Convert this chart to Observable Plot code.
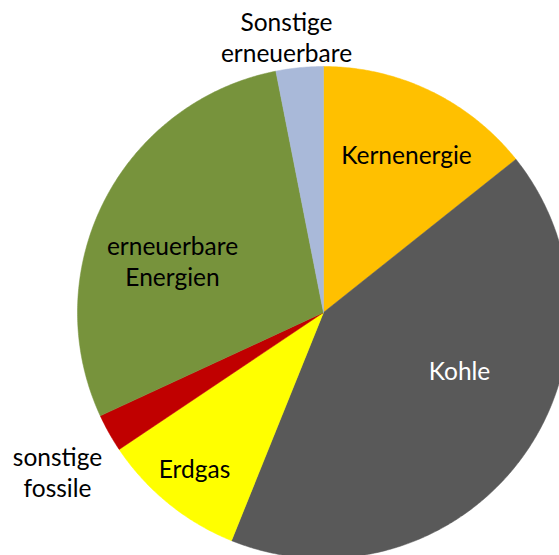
<!DOCTYPE html>
<html>
<head>
<meta charset="utf-8">
<script src="https://cdn.jsdelivr.net/npm/d3@7"></script>
<script src="https://cdn.jsdelivr.net/npm/@observablehq/plot@0.6"></script>
<style>
  html, body { margin: 0; padding: 0; background: #fff; overflow: hidden; }
  svg { overflow: hidden; }
</style>
</head>
<body>
<div id="chart"></div>
<script>
// Data (shares in %)
const categories = ["Kernenergie", "Kohle", "Erdgas", "sonstige fossile", "erneuerbare Energien", "Sonstige erneuerbare"];
const values = [14.3, 41.8, 9.5, 2.5, 28.8, 3.1];
const labels = ["Kernenergie", "Kohle", "Erdgas", "sonstige\nfossile", "erneuerbare\nEnergien", "Sonstige\nerneuerbare"];
const colors = ["#FFC000", "#595959", "#FFFF00", "#C00000", "#77933C", "#A9B9D9"];
const textColors = ["#000", "#fff", "#000", "#000", "#000", "#000"];

// Layout
const W = 559, H = 555, CX = 323, CY = 312, R = 246;
// label offsets from center in pixels
const labelOffsets = [[83, -158], [136, 57.5], [-129, 155.2], [-266, 159], [-151, -51.8], [-37, -276]];

const pie = d3.pie().sort(null).value(d => d.value).startAngle(0).endAngle(2 * Math.PI);
const table = categories.map((c, i) => ({name: c, value: values[i], label: labels[i]}));
const arcs = pie(table);

const pts = [];
for (const a of arcs) {
  const n = Math.max(4, Math.ceil((a.endAngle - a.startAngle) / (Math.PI / 360)));
  pts.push({name: a.data.name, x: 0, y: 0});
  for (let k = 0; k <= n; k++) {
    const t = a.startAngle + (a.endAngle - a.startAngle) * k / n;
    pts.push({name: a.data.name, x: Math.sin(t), y: Math.cos(t)});
  }
  pts.push({name: a.data.name, x: 0, y: 0});
}

const labelData = table.map((d, i) => ({
  label: d.label,
  color: textColors[i],
  x: labelOffsets[i][0] / R,
  y: -labelOffsets[i][1] / R
}));

const chart = Plot.plot({
  width: W,
  height: H,
  margin: 0,
  x: {domain: [-CX / R, (W - CX) / R], axis: null},
  y: {domain: [-(H - CY) / R, CY / R], axis: null},
  color: {type: "ordinal", domain: categories, range: colors},
  style: {fontFamily: "Lato, sans-serif", background: "#fff"},
  marks: [
    Plot.line(pts, {x: "x", y: "y", z: "name", fill: "name", stroke: "name", strokeWidth: 0.5, curve: "linear"}),
    Plot.text(labelData, {x: "x", y: "y", text: "label", fill: "color", fontSize: 24.5, lineHeight: 1.265, textAnchor: "middle"})
  ]
});
document.getElementById("chart").appendChild(chart);
</script>
</body>
</html>
